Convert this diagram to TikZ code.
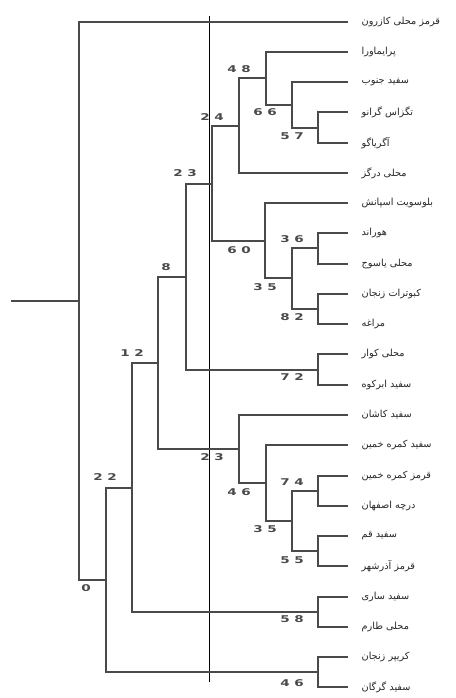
\documentclass[tikz,border=0pt]{standalone}
\usepackage{fontspec}
\usepackage{graphicx}
\setmainfont{DejaVu Sans}
\newfontfamily\arabicfont[Script=Arabic]{DejaVu Sans}
\newfontfamily\numfont{DejaVu Sans}
\TeXXeTstate=1
\definecolor{treegray}{HTML}{4A4A4A}
\definecolor{numgray}{HTML}{4A4A4A}
\newcommand\widedig[1]{\scalebox{1.45}[1]{#1}}
\newcommand\pair[2]{\widedig{#1}\kern3.4pt\widedig{#2}}
\tikzset{
  br/.style={draw=treegray, line width=1.5pt},
  refline/.style={draw=black, line width=0.75pt},
  lbl/.style={anchor=west, inner sep=0pt, text=black!85, font=\arabicfont\fontsize{7.3}{8}\selectfont},
  bv/.style={inner sep=0pt, text=numgray, font=\numfont\bfseries\fontsize{7}{8}\selectfont}
}
\begin{document}
\begin{tikzpicture}[x=0.75pt,y=-0.75pt]
\useasboundingbox (0,0) rectangle (455,698);
% leaves
\foreach \i/\y in {1/22,2/52,3/82,4/112,5/143,6/173,7/203,8/233,9/264,10/294,11/324,12/354,13/385,14/415,15/445,16/476,17/506,18/536,19/566,20/597,21/627,22/657,23/687}
  \coordinate (l\i) at (348,\y);
% internal nodes
\coordinate (stem) at (11,301);
\coordinate (root) at (79,301);
\coordinate (n22) at (106,580);
\coordinate (n12) at (132,488);
\coordinate (n8) at (158,363);
\coordinate (n23a) at (186,277);
\coordinate (n24) at (212,184);
\coordinate (n48) at (239,126);
\coordinate (n66) at (266,78);
\coordinate (n57) at (292,105);
\coordinate (x3) at (318,128);
\coordinate (n60) at (265,241);
\coordinate (y2) at (292,278);
\coordinate (y3) at (318,248);
\coordinate (y4) at (318,309);
\coordinate (n72) at (318,370);
\coordinate (n46b) at (239,449);
\coordinate (z2) at (266,483);
\coordinate (z3) at (292,521);
\coordinate (z4) at (318,491);
\coordinate (z5) at (318,551);
\coordinate (n58) at (318,612);
\coordinate (n46c) at (318,672);
% reference line
\coordinate (rtop) at (209.5,16);
\coordinate (rbot) at (209.5,682);
\draw[refline] (rtop) -- (rbot);
% branches
\draw[br] (stem) -- (root);
\foreach \p/\c in {root/l1,root/n22,n22/n12,n22/n46c,n12/n8,n12/n58,n8/n23a,n8/n46b,
  n23a/n24,n23a/n72,n24/n48,n24/n60,n48/n66,n48/l6,n66/l2,n66/n57,n57/l3,n57/x3,x3/l4,x3/l5,
  n60/l7,n60/y2,y2/y3,y2/y4,y3/l8,y3/l9,y4/l10,y4/l11,n72/l12,n72/l13,
  n46b/l14,n46b/z2,z2/l15,z2/z3,z3/z4,z3/z5,z4/l16,z4/l17,z5/l18,z5/l19,
  n58/l20,n58/l21,n46c/l22,n46c/l23}
  \draw[br] (\p) |- (\c);
% leaf labels
\node[lbl] (t1) at ([xshift=10pt]l1) {\beginR قرمز محلی کازرون\endR};
\node[lbl] (t2) at ([xshift=10pt]l2) {\beginR پرایماورا\endR};
\node[lbl] (t3) at ([xshift=10pt]l3) {\beginR سفید جنوب\endR};
\node[lbl] (t4) at ([xshift=10pt]l4) {\beginR تگزاس گرانو\endR};
\node[lbl] (t5) at ([xshift=10pt]l5) {\beginR آگریاگو\endR};
\node[lbl] (t6) at ([xshift=10pt]l6) {\beginR محلی درگز\endR};
\node[lbl] (t7) at ([xshift=10pt]l7) {\beginR بلوسویت اسپانش\endR};
\node[lbl] (t8) at ([xshift=10pt]l8) {\beginR هوراند\endR};
\node[lbl] (t9) at ([xshift=10pt]l9) {\beginR محلی یاسوج\endR};
\node[lbl] (t10) at ([xshift=10pt]l10) {\beginR کبوترات زنجان\endR};
\node[lbl] (t11) at ([xshift=10pt]l11) {\beginR مراغه\endR};
\node[lbl] (t12) at ([xshift=10pt]l12) {\beginR محلی کوار\endR};
\node[lbl] (t13) at ([xshift=10pt]l13) {\beginR سفید ابرکوه\endR};
\node[lbl] (t14) at ([xshift=10pt]l14) {\beginR سفید کاشان\endR};
\node[lbl] (t15) at ([xshift=10pt]l15) {\beginR سفید کمره خمین\endR};
\node[lbl] (t16) at ([xshift=10pt]l16) {\beginR قرمز کمره خمین\endR};
\node[lbl] (t17) at ([xshift=10pt]l17) {\beginR درچه اصفهان\endR};
\node[lbl] (t18) at ([xshift=10pt]l18) {\beginR سفید قم\endR};
\node[lbl] (t19) at ([xshift=10pt]l19) {\beginR قرمز آذرشهر\endR};
\node[lbl] (t20) at ([xshift=10pt]l20) {\beginR سفید ساری\endR};
\node[lbl] (t21) at ([xshift=10pt]l21) {\beginR محلی طارم\endR};
\node[lbl] (t22) at ([xshift=10pt]l22) {\beginR کریپر زنجان\endR};
\node[lbl] (t23) at ([xshift=10pt]l23) {\beginR سفید گرگان\endR};
% bootstrap values
\node[bv] (b48) at (239,69) {\pair48};
\node[bv] (b66) at (265,112) {\pair66};
\node[bv] (b57) at (292,136) {\pair57};
\node[bv] (b24) at (212,117) {\pair24};
\node[bv] (b23u) at (185,173) {\pair23};
\node[bv] (b60) at (239,250) {\pair60};
\node[bv] (b36) at (292,239) {\pair36};
\node[bv] (b35u) at (265,287) {\pair35};
\node[bv] (b82) at (292,317) {\pair82};
\node[bv] (b8) at (166,267) {\widedig{8}};
\node[bv] (b12) at (132,353) {\pair12};
\node[bv] (b72) at (292,377) {\pair72};
\node[bv] (b23l) at (212,457) {\pair23};
\node[bv] (b46m) at (239,492) {\pair46};
\node[bv] (b74) at (292,482) {\pair74};
\node[bv] (b35l) at (265,529) {\pair35};
\node[bv] (b55) at (292,560) {\pair55};
\node[bv] (b22) at (105,477) {\pair22};
\node[bv] (b0) at (86,588) {\widedig{0}};
\node[bv] (b58) at (292,619) {\pair58};
\node[bv] (b46b) at (292,683) {\pair46};
\end{tikzpicture}
\end{document}
